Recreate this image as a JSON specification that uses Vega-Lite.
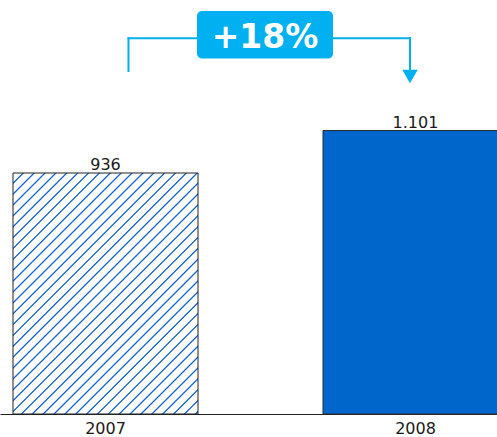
{
  "$schema": "https://vega.github.io/schema/vega-lite/v6.json",
  "width": 497,
  "height": 414,
  "autosize": "none",
  "padding": {"left": 0, "top": 0, "right": 0, "bottom": 23},
  "background": "white",
  "config": {
    "view": {"stroke": null},
    "locale": {"number": {"decimal": ",", "thousands": ".", "grouping": [3], "currency": ["", " €"]}},
    "axisX": {
      "labelAngle": 0,
      "ticks": false,
      "domainColor": "#222222",
      "domainWidth": 1,
      "labelFont": "DejaVu Sans",
      "labelFontSize": 16,
      "labelColor": "#1a1a1a",
      "labelPadding": 6,
      "grid": false
    }
  },
  "datasets": {
    "bars": [
      {"year": "2007", "value": 936},
      {"year": "2008", "value": 1101}
    ],
    "change": [
      {"from": "2007", "to": "2008", "label": "+18%", "level": 1459, "start": 1332, "arrow": 1311, "boxTop": 1565, "boxBottom": 1381, "textBase": 1420}
    ]
  },
  "layer": [
    {
      "data": {"name": "bars"},
      "transform": [{"filter": "datum.year == '2007'"}],
      "mark": {
        "type": "bar",
        "stroke": "#222222",
        "strokeWidth": 1,
        "fill": {
          "gradient": "linear",
          "x1": 0, "y1": 0, "x2": 0.85379, "y2": 1.11224,
          "stops": [
            {"offset": 0, "color": "white"},
            {"offset": 0.0207, "color": "white"}, {"offset": 0.0234, "color": "#1464d6"}, {"offset": 0.0250, "color": "#1464d6"}, {"offset": 0.0277, "color": "white"},
            {"offset": 0.0462, "color": "white"}, {"offset": 0.0489, "color": "#1464d6"}, {"offset": 0.0505, "color": "#1464d6"}, {"offset": 0.0532, "color": "white"},
            {"offset": 0.0717, "color": "white"}, {"offset": 0.0744, "color": "#1464d6"}, {"offset": 0.0760, "color": "#1464d6"}, {"offset": 0.0787, "color": "white"},
            {"offset": 0.0972, "color": "white"}, {"offset": 0.0999, "color": "#1464d6"}, {"offset": 0.1015, "color": "#1464d6"}, {"offset": 0.1042, "color": "white"},
            {"offset": 0.1227, "color": "white"}, {"offset": 0.1254, "color": "#1464d6"}, {"offset": 0.1270, "color": "#1464d6"}, {"offset": 0.1297, "color": "white"},
            {"offset": 0.1483, "color": "white"}, {"offset": 0.1510, "color": "#1464d6"}, {"offset": 0.1526, "color": "#1464d6"}, {"offset": 0.1553, "color": "white"},
            {"offset": 0.1738, "color": "white"}, {"offset": 0.1765, "color": "#1464d6"}, {"offset": 0.1781, "color": "#1464d6"}, {"offset": 0.1808, "color": "white"},
            {"offset": 0.1993, "color": "white"}, {"offset": 0.2020, "color": "#1464d6"}, {"offset": 0.2036, "color": "#1464d6"}, {"offset": 0.2063, "color": "white"},
            {"offset": 0.2248, "color": "white"}, {"offset": 0.2275, "color": "#1464d6"}, {"offset": 0.2291, "color": "#1464d6"}, {"offset": 0.2318, "color": "white"},
            {"offset": 0.2503, "color": "white"}, {"offset": 0.2530, "color": "#1464d6"}, {"offset": 0.2546, "color": "#1464d6"}, {"offset": 0.2573, "color": "white"},
            {"offset": 0.2758, "color": "white"}, {"offset": 0.2785, "color": "#1464d6"}, {"offset": 0.2801, "color": "#1464d6"}, {"offset": 0.2828, "color": "white"},
            {"offset": 0.3014, "color": "white"}, {"offset": 0.3041, "color": "#1464d6"}, {"offset": 0.3057, "color": "#1464d6"}, {"offset": 0.3084, "color": "white"},
            {"offset": 0.3269, "color": "white"}, {"offset": 0.3296, "color": "#1464d6"}, {"offset": 0.3312, "color": "#1464d6"}, {"offset": 0.3339, "color": "white"},
            {"offset": 0.3524, "color": "white"}, {"offset": 0.3551, "color": "#1464d6"}, {"offset": 0.3567, "color": "#1464d6"}, {"offset": 0.3594, "color": "white"},
            {"offset": 0.3779, "color": "white"}, {"offset": 0.3806, "color": "#1464d6"}, {"offset": 0.3822, "color": "#1464d6"}, {"offset": 0.3849, "color": "white"},
            {"offset": 0.4034, "color": "white"}, {"offset": 0.4061, "color": "#1464d6"}, {"offset": 0.4077, "color": "#1464d6"}, {"offset": 0.4104, "color": "white"},
            {"offset": 0.4289, "color": "white"}, {"offset": 0.4316, "color": "#1464d6"}, {"offset": 0.4332, "color": "#1464d6"}, {"offset": 0.4359, "color": "white"},
            {"offset": 0.4545, "color": "white"}, {"offset": 0.4572, "color": "#1464d6"}, {"offset": 0.4588, "color": "#1464d6"}, {"offset": 0.4615, "color": "white"},
            {"offset": 0.4800, "color": "white"}, {"offset": 0.4827, "color": "#1464d6"}, {"offset": 0.4843, "color": "#1464d6"}, {"offset": 0.4870, "color": "white"},
            {"offset": 0.5055, "color": "white"}, {"offset": 0.5082, "color": "#1464d6"}, {"offset": 0.5098, "color": "#1464d6"}, {"offset": 0.5125, "color": "white"},
            {"offset": 0.5310, "color": "white"}, {"offset": 0.5337, "color": "#1464d6"}, {"offset": 0.5353, "color": "#1464d6"}, {"offset": 0.5380, "color": "white"},
            {"offset": 0.5565, "color": "white"}, {"offset": 0.5592, "color": "#1464d6"}, {"offset": 0.5608, "color": "#1464d6"}, {"offset": 0.5635, "color": "white"},
            {"offset": 0.5820, "color": "white"}, {"offset": 0.5847, "color": "#1464d6"}, {"offset": 0.5863, "color": "#1464d6"}, {"offset": 0.5890, "color": "white"},
            {"offset": 0.6076, "color": "white"}, {"offset": 0.6103, "color": "#1464d6"}, {"offset": 0.6119, "color": "#1464d6"}, {"offset": 0.6146, "color": "white"},
            {"offset": 0.6331, "color": "white"}, {"offset": 0.6358, "color": "#1464d6"}, {"offset": 0.6374, "color": "#1464d6"}, {"offset": 0.6401, "color": "white"},
            {"offset": 0.6586, "color": "white"}, {"offset": 0.6613, "color": "#1464d6"}, {"offset": 0.6629, "color": "#1464d6"}, {"offset": 0.6656, "color": "white"},
            {"offset": 0.6841, "color": "white"}, {"offset": 0.6868, "color": "#1464d6"}, {"offset": 0.6884, "color": "#1464d6"}, {"offset": 0.6911, "color": "white"},
            {"offset": 0.7096, "color": "white"}, {"offset": 0.7123, "color": "#1464d6"}, {"offset": 0.7139, "color": "#1464d6"}, {"offset": 0.7166, "color": "white"},
            {"offset": 0.7351, "color": "white"}, {"offset": 0.7378, "color": "#1464d6"}, {"offset": 0.7394, "color": "#1464d6"}, {"offset": 0.7421, "color": "white"},
            {"offset": 0.7606, "color": "white"}, {"offset": 0.7633, "color": "#1464d6"}, {"offset": 0.7649, "color": "#1464d6"}, {"offset": 0.7676, "color": "white"},
            {"offset": 0.7862, "color": "white"}, {"offset": 0.7889, "color": "#1464d6"}, {"offset": 0.7905, "color": "#1464d6"}, {"offset": 0.7932, "color": "white"},
            {"offset": 0.8117, "color": "white"}, {"offset": 0.8144, "color": "#1464d6"}, {"offset": 0.8160, "color": "#1464d6"}, {"offset": 0.8187, "color": "white"},
            {"offset": 0.8372, "color": "white"}, {"offset": 0.8399, "color": "#1464d6"}, {"offset": 0.8415, "color": "#1464d6"}, {"offset": 0.8442, "color": "white"},
            {"offset": 0.8627, "color": "white"}, {"offset": 0.8654, "color": "#1464d6"}, {"offset": 0.8670, "color": "#1464d6"}, {"offset": 0.8697, "color": "white"},
            {"offset": 0.8882, "color": "white"}, {"offset": 0.8909, "color": "#1464d6"}, {"offset": 0.8925, "color": "#1464d6"}, {"offset": 0.8952, "color": "white"},
            {"offset": 0.9137, "color": "white"}, {"offset": 0.9164, "color": "#1464d6"}, {"offset": 0.9180, "color": "#1464d6"}, {"offset": 0.9207, "color": "white"},
            {"offset": 0.9393, "color": "white"}, {"offset": 0.9420, "color": "#1464d6"}, {"offset": 0.9436, "color": "#1464d6"}, {"offset": 0.9463, "color": "white"},
            {"offset": 0.9648, "color": "white"}, {"offset": 0.9675, "color": "#1464d6"}, {"offset": 0.9691, "color": "#1464d6"}, {"offset": 0.9718, "color": "white"},
            {"offset": 0.9903, "color": "white"}, {"offset": 0.9930, "color": "#1464d6"}, {"offset": 0.9946, "color": "#1464d6"}, {"offset": 0.9973, "color": "white"},
            {"offset": 1, "color": "white"}
          ]
        }
      },
      "encoding": {
        "x": {
          "field": "year",
          "type": "nominal",
          "title": null,
          "scale": {"range": [0, 508], "paddingInner": 0.403226, "paddingOuter": 0.020968, "align": 1}
        },
        "y": {
          "field": "value",
          "type": "quantitative",
          "scale": {"domain": [0, 1608], "nice": false, "zero": true},
          "axis": null
        }
      }
    },
    {
      "data": {"name": "bars"},
      "transform": [{"filter": "datum.year == '2008'"}],
      "mark": {"type": "bar", "fill": "#0066cc", "stroke": "#2a2a2a", "strokeWidth": 1},
      "encoding": {
        "x": {"field": "year", "type": "nominal", "title": null},
        "y": {"field": "value", "type": "quantitative", "axis": null}
      }
    },
    {
      "data": {"name": "bars"},
      "mark": {"type": "text", "font": "DejaVu Sans", "fontSize": 16, "color": "#1a1a1a", "baseline": "alphabetic", "dy": -3},
      "encoding": {
        "x": {"field": "year", "type": "nominal", "title": null},
        "y": {"field": "value", "type": "quantitative", "axis": null},
        "text": {"field": "value", "type": "quantitative", "format": ",d"}
      }
    },
    {
      "data": {"name": "change"},
      "mark": {"type": "rule", "color": "#00b0f0", "strokeWidth": 2, "xOffset": 23, "strokeCap": "square"},
      "encoding": {
        "x": {"field": "from", "type": "nominal", "title": null},
        "y": {"field": "start", "type": "quantitative", "axis": null},
        "y2": {"field": "level"}
      }
    },
    {
      "data": {"name": "change"},
      "mark": {"type": "rule", "color": "#00b0f0", "strokeWidth": 2, "xOffset": 23, "x2Offset": -5.5, "strokeCap": "square"},
      "encoding": {
        "x": {"field": "from", "type": "nominal", "title": null},
        "x2": {"field": "to"},
        "y": {"field": "level", "type": "quantitative", "axis": null}
      }
    },
    {
      "data": {"name": "change"},
      "mark": {"type": "rule", "color": "#00b0f0", "strokeWidth": 2, "xOffset": -5.5, "strokeCap": "square"},
      "encoding": {
        "x": {"field": "to", "type": "nominal", "title": null},
        "y": {"field": "level", "type": "quantitative", "axis": null},
        "y2": {"field": "arrow"}
      }
    },
    {
      "data": {"name": "change"},
      "mark": {"type": "point", "shape": "triangle-down", "filled": true, "size": 240, "color": "#00b0f0", "opacity": 1, "xOffset": -5.5},
      "encoding": {
        "x": {"field": "to", "type": "nominal", "title": null},
        "y": {"field": "arrow", "type": "quantitative", "axis": null}
      }
    },
    {
      "data": {"name": "change"},
      "mark": {"type": "bar", "fill": "#00b0f0", "width": 136, "xOffset": 159.5, "cornerRadius": 5},
      "encoding": {
        "x": {"field": "from", "type": "nominal", "title": null},
        "y": {"field": "boxTop", "type": "quantitative", "axis": null},
        "y2": {"field": "boxBottom"}
      }
    },
    {
      "data": {"name": "change"},
      "mark": {"type": "text", "font": "DejaVu Sans", "fontSize": 33, "fontWeight": "bold", "color": "white", "baseline": "alphabetic", "align": "center", "xOffset": 159.5},
      "encoding": {
        "x": {"field": "from", "type": "nominal", "title": null},
        "y": {"field": "textBase", "type": "quantitative", "axis": null},
        "text": {"field": "label"}
      }
    }
  ]
}
